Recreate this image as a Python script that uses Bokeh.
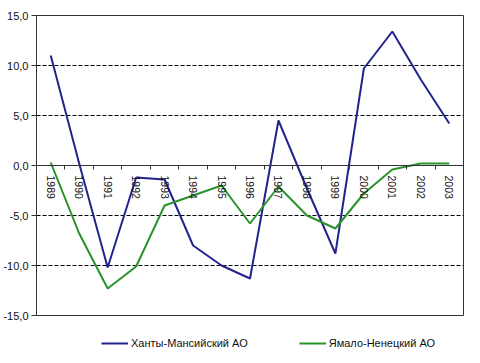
from bokeh.plotting import figure
from bokeh.layouts import column
from bokeh.models import Range1d, FixedTicker, LinearAxis, Legend, LegendItem
from bokeh.embed import file_html
from bokeh.resources import INLINE

years = ["1989", "1990", "1991", "1992", "1993", "1994", "1995", "1996",
         "1997", "1998", "1999", "2000", "2001", "2002", "2003"]
khanty = [11.0, 0.2, -10.2, -1.2, -1.4, -8.0, -10.0, -11.3,
          4.5, -2.3, -8.8, 9.7, 13.4, 8.6, 4.2]
yamal = [0.3, -6.8, -12.3, -10.1, -4.0, -3.0, -2.0, -5.8,
         -2.1, -5.0, -6.3, -2.8, -0.4, 0.2, 0.2]
y_ticks = [-15, -10, -5, 0, 5, 10, 15]
y_labels = ["-15,0", "-10,0", "-5,0", "0,0", "5,0", "10,0", "15,0"]
series_names = ["Ханты-Мансийский АО", "Ямало-Ненецкий АО"]

FONT = "Liberation Sans"
AX = "#333333"
BLUE = "#23238E"
GREEN = "#2A922A"

p = figure(width=464, height=330, output_backend="svg", toolbar_location=None,
           x_range=Range1d(0, len(years)), y_range=Range1d(-15, 15),
           x_axis_location=None, y_axis_location="left")
p.min_border_left = 33
p.min_border_right = 1
p.min_border_top = 15
p.min_border_bottom = 15
p.outline_line_color = AX
p.outline_line_width = 1
p.background_fill_color = "white"
p.border_fill_color = "white"

xs = [i + 0.5 for i in range(len(years))]

# y axis
p.yaxis.ticker = FixedTicker(ticks=y_ticks)
p.yaxis.major_label_overrides = {float(t): l for t, l in zip(y_ticks, y_labels)}
p.yaxis.axis_line_color = AX
p.yaxis.major_tick_line_color = AX
p.yaxis.major_tick_out = 5
p.yaxis.major_tick_in = 0
p.yaxis.minor_tick_line_color = None
p.yaxis.major_label_standoff = 3
p.yaxis.major_label_text_font = FONT
p.yaxis.major_label_text_font_size = "11px"
p.yaxis.major_label_text_color = "#111111"

# grid
p.xgrid.visible = False
p.ygrid.ticker = FixedTicker(ticks=[-10, -5, 5, 10])
p.ygrid.grid_line_color = "black"
p.ygrid.grid_line_dash = "4 2"
p.ygrid.grid_line_width = 1

# x axis with boundary ticks at y=0
tick_axis = LinearAxis(fixed_location=0,
                       ticker=FixedTicker(ticks=list(range(len(years) + 1))),
                       major_label_text_alpha=0, major_label_text_font_size="1px",
                       axis_line_color=AX, major_tick_line_color=AX,
                       major_tick_out=4, major_tick_in=0,
                       minor_tick_line_color=None)
p.add_layout(tick_axis, "below")

label_axis = LinearAxis(fixed_location=0, ticker=FixedTicker(ticks=xs),
                        major_label_overrides={x: y for x, y in zip(xs, years)},
                        axis_line_color=None, major_tick_line_color=None,
                        minor_tick_line_color=None,
                        major_label_orientation="vertical",
                        major_label_standoff=4,
                        major_label_text_font=FONT,
                        major_label_text_font_size="10.5px",
                        major_label_text_color="#111111")
p.add_layout(label_axis, "below")

p.line(xs, khanty, line_color=BLUE, line_width=2)
p.line(xs, yamal, line_color=GREEN, line_width=2)

# legend strip below the chart
lg = figure(width=464, height=25, output_backend="svg", toolbar_location=None,
            x_range=Range1d(1000, 1001), y_range=Range1d(1000, 1001),
            x_axis_location=None, y_axis_location=None)
lg.min_border_left = 0
lg.min_border_right = 0
lg.min_border_top = 0
lg.min_border_bottom = 0
lg.outline_line_color = None
lg.grid.visible = False
lg.border_fill_color = "white"
l1 = lg.line(xs, khanty, line_color=BLUE, line_width=2)
l2 = lg.line(xs, yamal, line_color=GREEN, line_width=2)

legend = Legend(items=[LegendItem(label=series_names[0], renderers=[l1]),
                       LegendItem(label=series_names[1], renderers=[l2])],
                orientation="horizontal", location=(65, 6),
                glyph_width=27, glyph_height=10, label_standoff=3, spacing=51,
                padding=0, margin=0, border_line_color=None,
                background_fill_alpha=0,
                label_text_font=FONT, label_text_font_size="11px",
                label_text_color="#111111")
lg.add_layout(legend)

layout = column(p, lg, spacing=0)
open("out.html", "w").write(file_html(layout, INLINE))
